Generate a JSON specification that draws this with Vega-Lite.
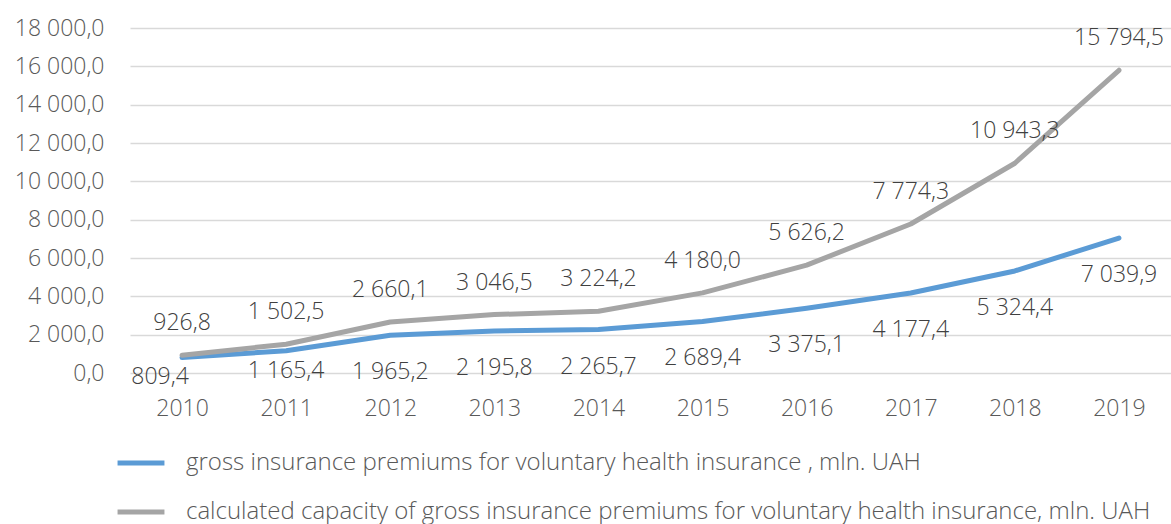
{
  "$schema": "https://vega.github.io/schema/vega-lite/v6.json",
  "width": 1041,
  "height": 345,
  "autosize": "none",
  "padding": {"left": 130, "top": 28, "right": 0, "bottom": 151},
  "background": "white",
  "config": {
    "locale": {"number": {"decimal": ",", "thousands": " ", "grouping": [3], "currency": ["", ""]}},
    "view": {"stroke": null},
    "font": "Open Sans"
  },
  "data": {
    "values": [
      {"year": "2010", "series": "gross insurance premiums for voluntary health insurance , mln. UAH", "value": 809.4},
      {"year": "2011", "series": "gross insurance premiums for voluntary health insurance , mln. UAH", "value": 1165.4},
      {"year": "2012", "series": "gross insurance premiums for voluntary health insurance , mln. UAH", "value": 1965.2},
      {"year": "2013", "series": "gross insurance premiums for voluntary health insurance , mln. UAH", "value": 2195.8},
      {"year": "2014", "series": "gross insurance premiums for voluntary health insurance , mln. UAH", "value": 2265.7},
      {"year": "2015", "series": "gross insurance premiums for voluntary health insurance , mln. UAH", "value": 2689.4},
      {"year": "2016", "series": "gross insurance premiums for voluntary health insurance , mln. UAH", "value": 3375.1},
      {"year": "2017", "series": "gross insurance premiums for voluntary health insurance , mln. UAH", "value": 4177.4},
      {"year": "2018", "series": "gross insurance premiums for voluntary health insurance , mln. UAH", "value": 5324.4},
      {"year": "2019", "series": "gross insurance premiums for voluntary health insurance , mln. UAH", "value": 7039.9},
      {"year": "2010", "series": "calculated capacity of gross insurance premiums for voluntary health insurance, mln. UAH", "value": 926.8},
      {"year": "2011", "series": "calculated capacity of gross insurance premiums for voluntary health insurance, mln. UAH", "value": 1502.5},
      {"year": "2012", "series": "calculated capacity of gross insurance premiums for voluntary health insurance, mln. UAH", "value": 2660.1},
      {"year": "2013", "series": "calculated capacity of gross insurance premiums for voluntary health insurance, mln. UAH", "value": 3046.5},
      {"year": "2014", "series": "calculated capacity of gross insurance premiums for voluntary health insurance, mln. UAH", "value": 3224.2},
      {"year": "2015", "series": "calculated capacity of gross insurance premiums for voluntary health insurance, mln. UAH", "value": 4180.0},
      {"year": "2016", "series": "calculated capacity of gross insurance premiums for voluntary health insurance, mln. UAH", "value": 5626.2},
      {"year": "2017", "series": "calculated capacity of gross insurance premiums for voluntary health insurance, mln. UAH", "value": 7774.3},
      {"year": "2018", "series": "calculated capacity of gross insurance premiums for voluntary health insurance, mln. UAH", "value": 10943.3},
      {"year": "2019", "series": "calculated capacity of gross insurance premiums for voluntary health insurance, mln. UAH", "value": 15794.5}
    ]
  },
  "encoding": {
    "x": {
      "field": "year", "type": "ordinal",
      "scale": {"type": "point", "padding": 0.5},
      "axis": {"title": null, "labelAngle": 0, "domain": false, "ticks": false, "labelPadding": 24, "labelFontSize": 23, "labelFontWeight": 300, "labelColor": "#595959", "labelFont": "Open Sans"}
    },
    "y": {
      "field": "value", "type": "quantitative",
      "scale": {"domain": [0, 18000], "nice": false},
      "axis": {"title": null, "values": [0, 2000, 4000, 6000, 8000, 10000, 12000, 14000, 16000, 18000], "format": ",.1f", "domain": false, "ticks": false, "labelPadding": 26, "labelFontSize": 23, "labelFontWeight": 300, "labelColor": "#595959", "labelFont": "Open Sans", "gridColor": "#d9d9d9", "gridWidth": 1.5}
    }
  },
  "layer": [
    {
      "mark": {"type": "line", "strokeWidth": 5, "interpolate": "linear", "strokeCap": "round", "strokeJoin": "round"},
      "encoding": {
        "color": {
          "field": "series", "type": "nominal",
          "scale": {
            "domain": ["gross insurance premiums for voluntary health insurance , mln. UAH", "calculated capacity of gross insurance premiums for voluntary health insurance, mln. UAH"],
            "range": ["#5b9bd5", "#a5a5a5"]
          },
          "legend": {
            "title": null, "orient": "none", "legendX": -15, "legendY": 409, "direction": "vertical",
            "symbolType": "stroke", "symbolSize": 2200, "symbolStrokeWidth": 5,
            "labelFontSize": 24, "labelFontWeight": 300, "labelColor": "#595959", "labelFont": "Open Sans", "labelOffset": 19, "rowPadding": 11, "labelLimit": 1100
          }
        },
        "order": {"field": "series", "sort": "descending"}
      }
    },
    {
      "transform": [{"filter": "datum.series == 'calculated capacity of gross insurance premiums for voluntary health insurance, mln. UAH'"}],
      "mark": {"type": "text", "dy": -32, "fontSize": 23, "fontWeight": 300, "color": "#404040", "font": "Open Sans"},
      "encoding": {"text": {"field": "value", "type": "quantitative", "format": ",.1f"}}
    },
    {
      "transform": [
        {"filter": "datum.series == 'gross insurance premiums for voluntary health insurance , mln. UAH'"},
        {"filter": "datum.year == '2010'"}
      ],
      "mark": {"type": "text", "dy": 20, "dx": -22, "fontSize": 23, "fontWeight": 300, "color": "#404040", "font": "Open Sans"},
      "encoding": {"text": {"field": "value", "type": "quantitative", "format": ",.1f"}}
    },
    {
      "transform": [
        {"filter": "datum.series == 'gross insurance premiums for voluntary health insurance , mln. UAH'"},
        {"filter": "datum.year == '2011'"}
      ],
      "mark": {"type": "text", "dy": 20, "fontSize": 23, "fontWeight": 300, "color": "#404040", "font": "Open Sans"},
      "encoding": {"text": {"field": "value", "type": "quantitative", "format": ",.1f"}}
    },
    {
      "transform": [
        {"filter": "datum.series == 'gross insurance premiums for voluntary health insurance , mln. UAH'"},
        {"filter": "datum.year != '2010' && datum.year != '2011'"}
      ],
      "mark": {"type": "text", "dy": 37, "fontSize": 23, "fontWeight": 300, "color": "#404040", "font": "Open Sans"},
      "encoding": {"text": {"field": "value", "type": "quantitative", "format": ",.1f"}}
    }
  ]
}
